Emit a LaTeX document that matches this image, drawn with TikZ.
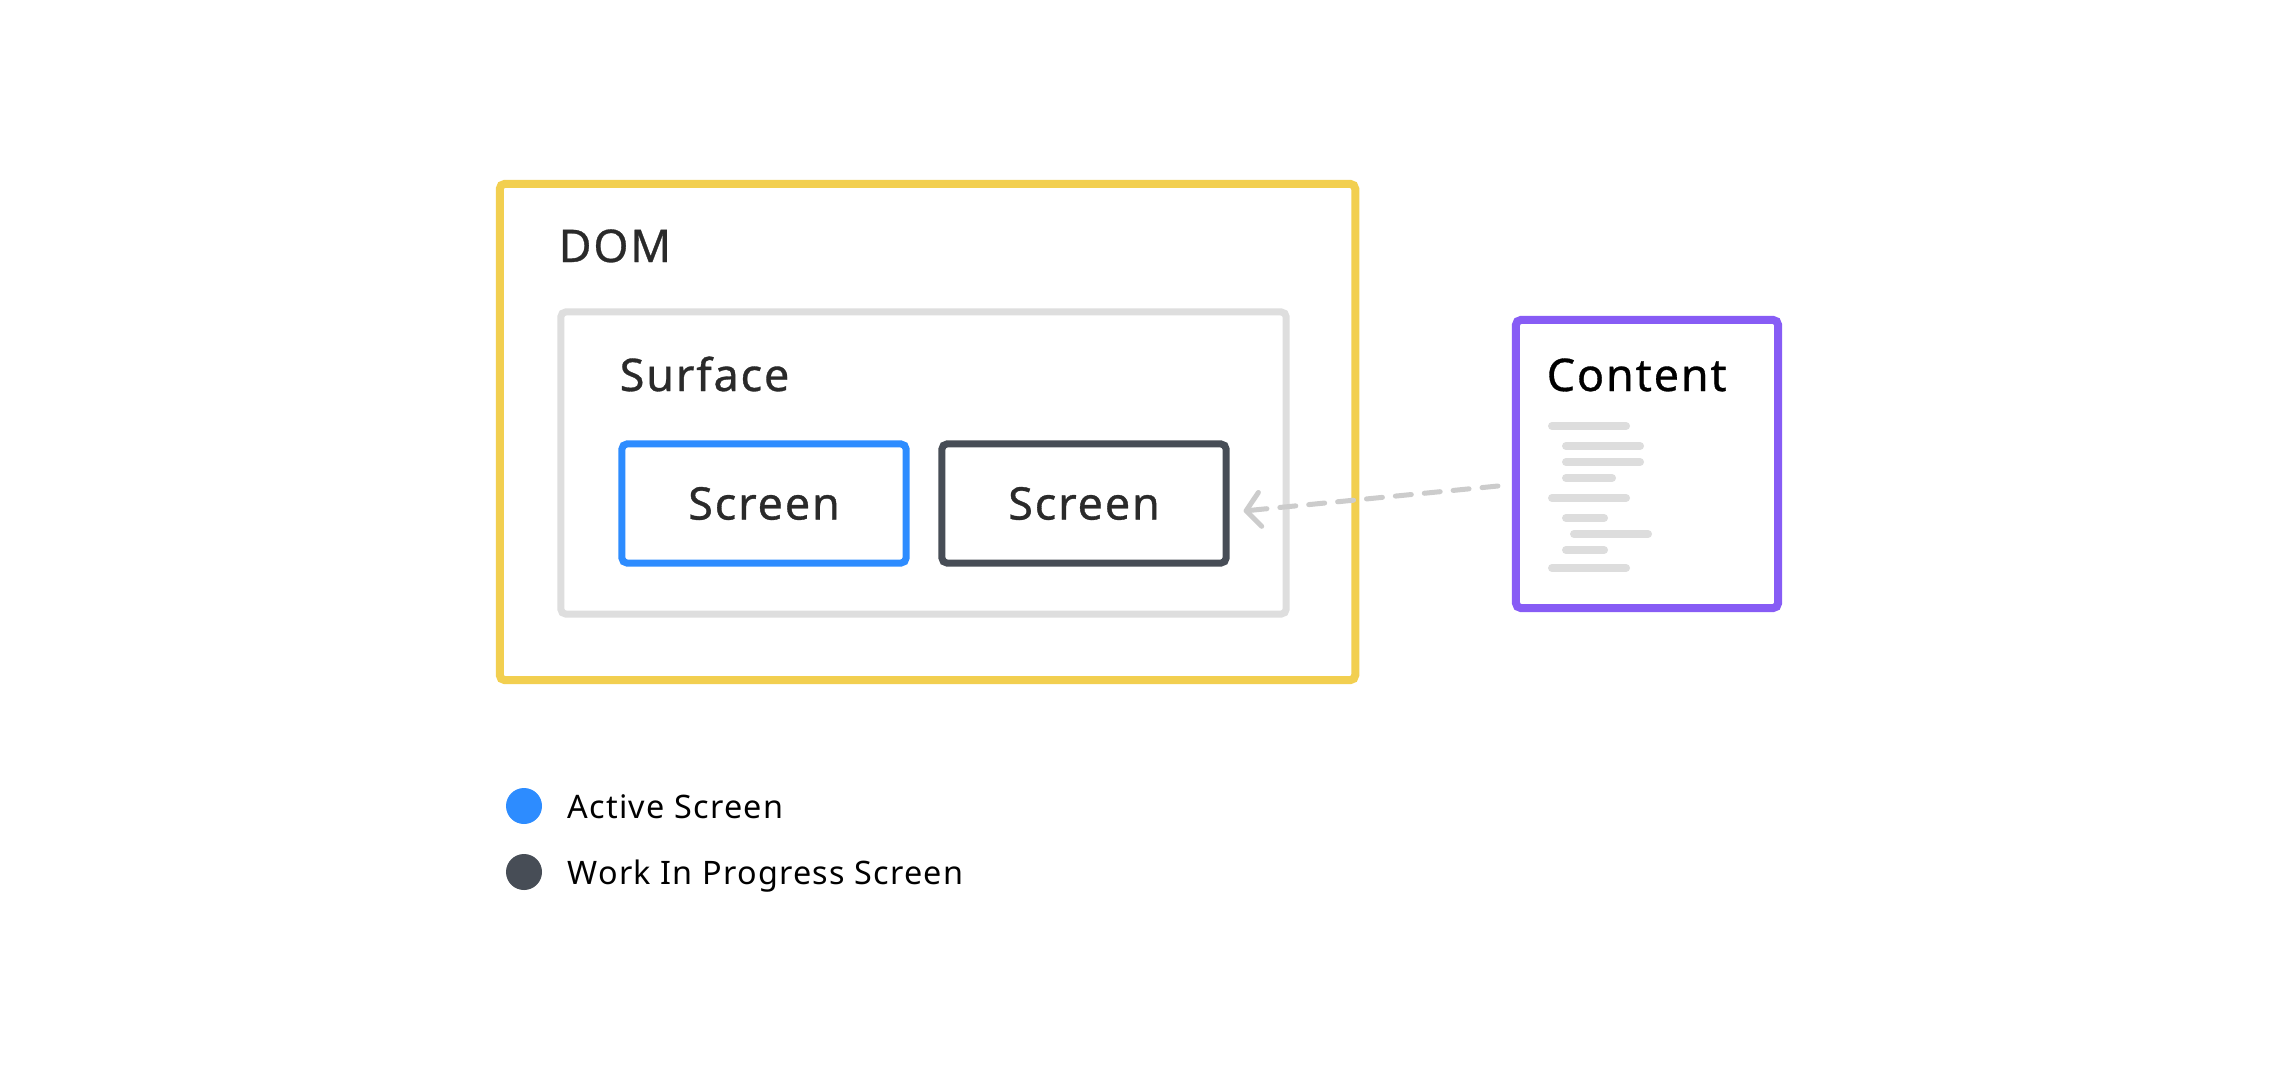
\documentclass[tikz,border=0pt]{standalone}
\usepackage{fontspec}
\setmainfont{Noto Sans}
\newfontfamily\titlefam[FakeBold=0.7, LetterSpace=4]{Noto Sans}
\newfontfamily\legfam[LetterSpace=3.8]{Noto Sans}
\usetikzlibrary{arrows.meta}
\definecolor{domyellow}{HTML}{F2CF50}
\definecolor{surfgray}{HTML}{DEDEDE}
\definecolor{actblue}{HTML}{2D8CFF}
\definecolor{wipdark}{HTML}{474D56}
\definecolor{contpurple}{HTML}{875CF5}
\definecolor{dashgray}{HTML}{CCCCCC}
\definecolor{bargray}{HTML}{DDDDDD}
\definecolor{txtdark}{HTML}{2A2A2A}
\newcommand{\titlefont}{\titlefam\fontsize{12.8pt}{15pt}\selectfont}
\newcommand{\legfont}{\legfam\fontsize{9.2pt}{11pt}\selectfont}
\tikzset{
  boxbase/.style={rectangle, rounded corners=0.05cm, inner sep=0pt, fill=white},
  dombox/.style={boxbase, draw=domyellow, line width=0.08cm},
  surfbox/.style={boxbase, draw=surfgray, line width=0.07cm},
  activebox/.style={boxbase, draw=actblue, line width=0.07cm, text=txtdark, font=\titlefont},
  wipbox/.style={boxbase, draw=wipdark, line width=0.07cm, text=txtdark, font=\titlefont},
  contbox/.style={boxbase, draw=contpurple, line width=0.08cm},
  titletext/.style={anchor=base west, inner sep=0pt, text=txtdark, font=\titlefont},
  legtext/.style={anchor=base west, inner sep=0pt, text=black, font=\legfont},
  legdot/.style={circle, inner sep=0pt, minimum size=0.36cm},
  bar/.style={draw=bargray, line width=0.08cm, line cap=round},
  feed/.style={draw=dashgray, line width=0.05cm, line cap=round, dash pattern=on 0.16cm off 0.13cm,
    -{Straight Barb[length=0.14cm, width=0.34cm, line cap=round, line join=round]}}
}
\begin{document}
\begin{tikzpicture}[x=0.01cm, y=-0.01cm]
\path[use as bounding box] (0,0) rectangle (2280,1076);
% boxes
\node[dombox, minimum width=8.55cm, minimum height=4.96cm] (dom) at (927.5,432) {};
\node[titletext] (domlbl) at (558,262) {DOM};
\node[surfbox, minimum width=7.25cm, minimum height=3.02cm] (surf) at (923.5,463) {};
\node[titletext] (surflbl) at (619,391) {Surface};
\node[activebox, minimum width=2.84cm, minimum height=1.19cm] (scr1) at (764,503.5) {Screen};
\node[wipbox, minimum width=2.84cm, minimum height=1.19cm] (scr2) at (1084,503.5) {Screen};
\node[contbox, minimum width=2.62cm, minimum height=2.88cm] (cont) at (1647,464) {};
\node[titletext, text=black] (contlbl) at (1546,391) {Content};
% content bars
\draw[bar] (1552,426) -- (1626,426);
\draw[bar] (1566,446) -- (1640,446);
\draw[bar] (1566,462) -- (1640,462);
\draw[bar] (1566,478) -- (1612,478);
\draw[bar] (1552,498) -- (1626,498);
\draw[bar] (1566,518) -- (1604,518);
\draw[bar] (1574,534) -- (1648,534);
\draw[bar] (1566,550) -- (1604,550);
\draw[bar] (1552,568) -- (1626,568);
% connector
\draw[feed] ([xshift=-0.14cm, yshift=-0.22cm]cont.west) -- ([xshift=0.14cm, yshift=-0.075cm]scr2.east);
% legend
\node[legdot, fill=actblue] (lg1) at (524,806) {};
\node[legtext] (lg1t) at (567,818) {Active Screen};
\node[legdot, fill=wipdark] (lg2) at (524,872) {};
\node[legtext] (lg2t) at (567,884) {Work In Progress Screen};
\end{tikzpicture}
\end{document}
